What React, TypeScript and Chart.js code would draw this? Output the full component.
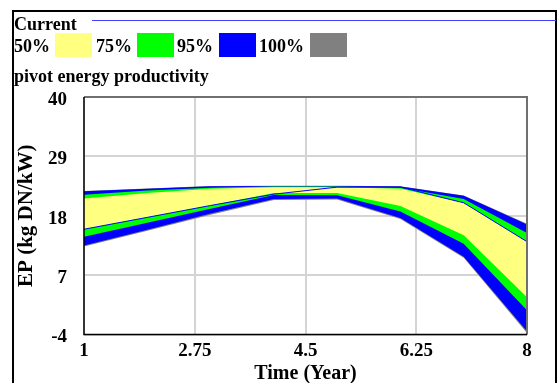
import React, { useEffect, useRef } from "react";
import { Chart, registerables } from "chart.js";
Chart.register(...registerables);

const years = [1, 2, 3, 4, 5, 6, 7, 8];
const current = [15.5, 17.7, 19.9, 22.0, 23.3, 23.3, 20.4, 13.2];
const max100 = [22.6, 23.05, 23.5, 23.55, 23.55, 23.45, 21.75, 16.5];
const max95 = [22.55, 23.0, 23.45, 23.5, 23.5, 23.4, 21.7, 16.4];
const max75 = [21.9, 22.7, 23.2, 23.4, 23.4, 23.2, 21.1, 14.8];
const max50 = [21.2, 22.2, 23.0, 23.3, 23.3, 23.0, 20.4, 13.2];
const min50 = [15.5, 17.7, 19.9, 22.2, 22.2, 19.8, 14.4, 2.9];
const min75 = [14.1, 16.7, 19.3, 21.85, 21.8, 18.8, 12.8, 0.5];
const min95 = [12.5, 15.4, 18.4, 21.1, 21.2, 17.6, 10.4, -3.4];
const min100 = [12.3, 15.2, 18.2, 20.9, 21.0, 17.4, 10.2, -3.7];
const xTicks = [1, 2.75, 4.5, 6.25, 8];
const yTicks = [-4, 7, 18, 29, 40];
const bandLabels = ["50%", "75%", "95%", "100%"];
const bandColors = ["#ffff80", "#00ff00", "#0000ff", "#808080"];
const currentLabel = "Current";
const variableName = "pivot energy productivity";
const yTitle = "EP (kg DN/kW)";
const xTitle = "Time (Year)";

const FONT = '"Liberation Serif", "Times New Roman", serif';

const pts = (arr: number[]) => years.map((x, i) => ({ x, y: arr[i] }));

const framePlugin = {
  id: "plotFrame",
  afterDatasetsDraw(chart: any) {
    const { ctx, chartArea } = chart;
    const { left, right, top, bottom } = chartArea;
    ctx.save();
    ctx.strokeStyle = "#707070";
    ctx.lineWidth = 2;
    ctx.beginPath();
    ctx.moveTo(left, top);
    ctx.lineTo(right, top);
    ctx.lineTo(right, bottom);
    ctx.stroke();
    ctx.strokeStyle = "#000";
    ctx.lineWidth = 1.5;
    ctx.beginPath();
    ctx.moveTo(left, top);
    ctx.lineTo(left, bottom);
    ctx.lineTo(right, bottom);
    ctx.stroke();
    ctx.restore();
  },
};

export default function App() {
  const ref = useRef<HTMLCanvasElement>(null);
  useEffect(() => {
    if (!ref.current) return;
    const base = { pointRadius: 0, borderWidth: 0, tension: 0 };
    const chart = new Chart(ref.current, {
      type: "line",
      data: {
        datasets: [
          { ...base, data: pts(min100), fill: false, order: 40, borderColor: bandColors[3] },
          { ...base, data: pts(max100), fill: 0, order: 40, backgroundColor: bandColors[3], borderColor: bandColors[3] },
          { ...base, data: pts(min95), fill: false, order: 30, borderColor: bandColors[2] },
          { ...base, data: pts(max95), fill: 2, order: 30, backgroundColor: bandColors[2], borderColor: bandColors[2] },
          { ...base, data: pts(min75), fill: false, order: 20, borderColor: bandColors[1] },
          { ...base, data: pts(max75), fill: 4, order: 20, backgroundColor: bandColors[1], borderColor: bandColors[1] },
          { ...base, data: pts(min50), fill: false, order: 10, borderColor: bandColors[0] },
          { ...base, data: pts(max50), fill: 6, order: 10, backgroundColor: bandColors[0], borderColor: bandColors[0] },
          { ...base, data: pts(current), fill: false, order: 0, borderColor: "#0000ff", borderWidth: 1 },
        ] as any,
      },
      options: {
        animation: false,
        responsive: false,
        layout: { padding: { top: 97, right: 33, left: 0, bottom: 0 } },
        plugins: { legend: { display: false }, tooltip: { enabled: false } },
        scales: {
          x: {
            type: "linear",
            min: 1,
            max: 8,
            afterBuildTicks: (s: any) => {
              s.ticks = xTicks.map((value) => ({ value }));
            },
            afterFit: (s: any) => {
              s.height = 48.5;
            },
            ticks: {
              callback: (v: any) => String(v),
              font: { family: FONT, size: 19, weight: "bold" },
              color: "#000",
              padding: 5.5,
              maxRotation: 0,
              autoSkip: false,
            },
            grid: { color: "#d4d4d4", lineWidth: 2, drawTicks: false },
            border: { display: false },
            title: {
              display: true,
              text: xTitle,
              color: "#000",
              font: { family: FONT, size: 20, weight: "bold", lineHeight: 1 },
              padding: { top: 0, bottom: -0.5 },
            },
          },
          y: {
            type: "linear",
            min: -4,
            max: 40,
            afterBuildTicks: (s: any) => {
              s.ticks = yTicks.map((value) => ({ value }));
            },
            afterFit: (s: any) => {
              s.width = 84;
            },
            ticks: {
              callback: (v: any) => String(v),
              font: { family: FONT, size: 19, weight: "bold" },
              color: "#000",
              padding: 17,
              labelOffset: 3,
              autoSkip: false,
            },
            grid: { color: "#d4d4d4", lineWidth: 2, drawTicks: false },
            border: { display: false },
            title: {
              display: true,
              text: yTitle,
              color: "#000",
              font: { family: FONT, size: 21, weight: "bold" },
              padding: { top: 14, bottom: 0 },
            },
          },
        },
      } as any,
      plugins: [framePlugin],
    });
    return () => chart.destroy();
  }, []);

  const swatchLeft = [55, 137, 219, 310];
  const textLeft = [14, 96, 177, 259];
  const txt: React.CSSProperties = {
    position: "absolute",
    lineHeight: "18px",
    whiteSpace: "nowrap",
  };

  return (
    <div
      style={{
        position: "fixed",
        left: 0,
        top: 0,
        width: 560,
        height: 383,
        overflow: "hidden",
        background: "#fff",
        fontFamily: FONT,
        fontWeight: "bold",
        fontSize: 18,
        color: "#000",
      }}
    >
      <canvas
        ref={ref}
        width={560}
        height={383}
        style={{ position: "absolute", left: 0, top: 0, width: 560, height: 383 }}
      />
      <div
        style={{
          position: "absolute",
          left: 12,
          top: 10,
          width: 541,
          height: 420,
          border: "2px solid #000",
          boxSizing: "content-box",
          pointerEvents: "none",
        }}
      />
      <span style={{ ...txt, left: 14, top: 15 }}>{currentLabel}</span>
      <div style={{ position: "absolute", left: 92, top: 20, width: 464, height: 1, background: "#4040ff" }} />
      {bandLabels.map((lab, i) => (
        <React.Fragment key={lab}>
          <span style={{ ...txt, left: textLeft[i], top: 37 }}>{lab}</span>
          <div
            style={{
              position: "absolute",
              left: swatchLeft[i],
              top: 33,
              width: 37,
              height: 24,
              background: bandColors[i],
            }}
          />
        </React.Fragment>
      ))}
      <span style={{ ...txt, left: 14, top: 67 }}>{variableName}</span>
    </div>
  );
}
